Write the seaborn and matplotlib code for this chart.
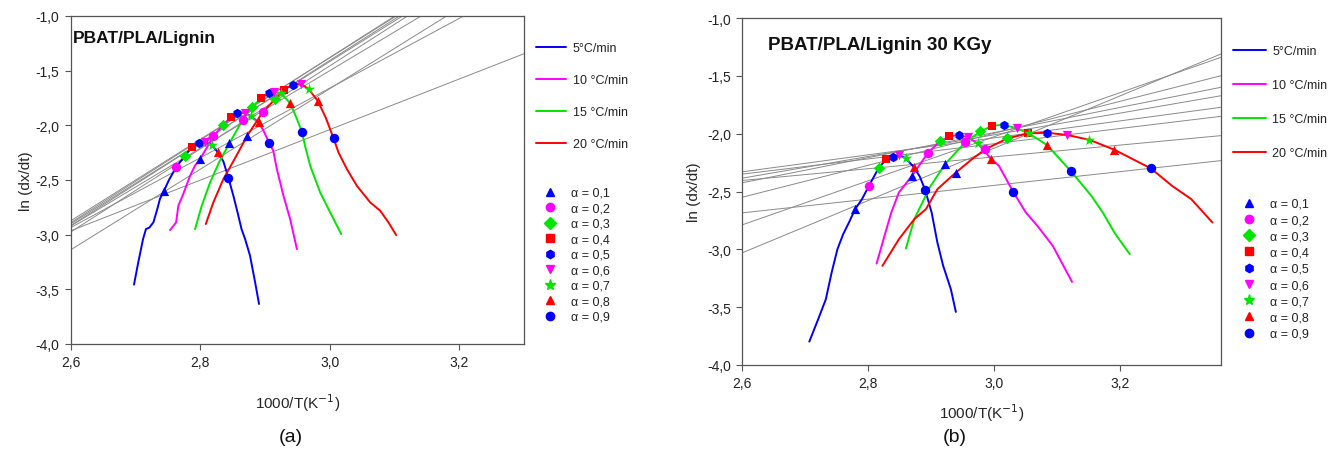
import numpy as np
import pandas as pd
import matplotlib
matplotlib.use("Agg")
import matplotlib.pyplot as plt
from matplotlib.lines import Line2D
import seaborn as sns

sns.set_style("ticks")
plt.rcParams["font.family"] = ["Liberation Sans", "DejaVu Sans"]

# ---------------- categories ----------------
RATES = ["5°C/min", "10 °C/min", "15 °C/min", "20 °C/min"]
RATE_COLORS = ["#0000FF", "#FF00FF", "#00E600", "#FF0000"]
ALPHAS = ["0,1", "0,2", "0,3", "0,4", "0,5", "0,6", "0,7", "0,8", "0,9"]
ALPHA_MARKERS = ["^", "o", "D", "s", "h", "v", "*", "^", "o"]
ALPHA_COLORS = ["#0000FF", "#FF00FF", "#00E600", "#FF0000", "#0000FF",
                "#FF00FF", "#00E600", "#FF0000", "#0000FF"]
XTICKS = [2.6, 2.8, 3.0, 3.2]
XTICK_LABELS = ["2,6", "2,8", "3,0", "3,2"]
YTICKS = [-4.0, -3.5, -3.0, -2.5, -2.0, -1.5, -1.0]
YTICK_LABELS = ["-4,0", "-3,5", "-3,0", "-2,5", "-2,0", "-1,5", "-1,0"]

# ---------------- panel (a): PBAT/PLA/Lignin ----------------
A_5_X = [2.698, 2.7046, 2.712, 2.7165, 2.7216, 2.728, 2.734, 2.738, 2.7443, 2.752, 2.7629, 2.7768,
         2.7881, 2.7985, 2.8077, 2.8180, 2.8273, 2.836, 2.8438, 2.8514, 2.858, 2.864, 2.8695,
         2.877, 2.885, 2.891]
A_5_Y = [-3.457, -3.253, -3.04, -2.948, -2.936, -2.887, -2.765, -2.674, -2.598, -2.50, -2.384, -2.277,
         -2.195, -2.165, -2.155, -2.177, -2.247, -2.33, -2.482, -2.644, -2.80, -2.949, -3.04,
         -3.19, -3.436, -3.634]
A_10_X = [2.7537, 2.763, 2.7665, 2.774, 2.7846, 2.792, 2.800, 2.8206, 2.8351, 2.8474, 2.8577, 2.8686,
          2.8784, 2.8902, 2.898, 2.9067, 2.913, 2.9185, 2.9287, 2.939, 2.9495]
A_10_Y = [-2.958, -2.888, -2.735, -2.629, -2.461, -2.37, -2.308, -2.101, -1.997, -1.927, -1.890, -1.887,
          -1.912, -1.973, -2.05, -2.162, -2.232, -2.40, -2.644, -2.857, -3.132]
A_15_X = [2.7923, 2.8026, 2.8155, 2.8300, 2.8454, 2.8660, 2.8809, 2.8943, 2.9057, 2.9134, 2.9253,
          2.9392, 2.948, 2.9572, 2.962, 2.970, 2.9853, 3.0008, 3.0178]
A_15_Y = [-2.949, -2.735, -2.522, -2.33, -2.162, -1.948, -1.829, -1.753, -1.707, -1.692, -1.707,
          -1.799, -1.92, -2.058, -2.187, -2.37, -2.613, -2.796, -2.995]
A_20_X = [2.8088, 2.8205, 2.836, 2.855, 2.8722, 2.8964, 2.9160, 2.9299, 2.9428, 2.9557, 2.9675,
          2.9814, 2.994, 3.0059, 3.0136, 3.0266, 3.042, 3.0626, 3.078, 3.0908, 3.1027]
A_20_Y = [-2.903, -2.705, -2.491, -2.29, -2.101, -1.881, -1.759, -1.674, -1.628, -1.622, -1.668,
          -1.774, -1.93, -2.116, -2.247, -2.40, -2.553, -2.705, -2.781, -2.888, -3.004]
# conversion markers (rows: heating rate, columns: alpha 0.1 ... 0.9)
A_MARK_X = [[2.7443, 2.7629, 2.7768, 2.7881, 2.7985, 2.8077, 2.8180, 2.8273, 2.8438],
            [2.8000, 2.8206, 2.8351, 2.8474, 2.8577, 2.8686, 2.8784, 2.8902, 2.9067],
            [2.8454, 2.8660, 2.8809, 2.8943, 2.9057, 2.9134, 2.9253, 2.9392, 2.9572],
            [2.8722, 2.8964, 2.9160, 2.9299, 2.9428, 2.9557, 2.9675, 2.9814, 3.0062]]
A_MARK_Y = [[-2.598, -2.384, -2.277, -2.195, -2.165, -2.155, -2.177, -2.247, -2.482],
            [-2.308, -2.101, -1.997, -1.927, -1.890, -1.887, -1.912, -1.973, -2.162],
            [-2.162, -1.948, -1.829, -1.753, -1.707, -1.692, -1.707, -1.799, -2.058],
            [-2.101, -1.881, -1.759, -1.674, -1.628, -1.622, -1.668, -1.774, -2.113]]
# iso-conversion fit lines: value at left edge (2.6) and right edge of the axis
A_FIT_LEFT = [-3.140, -2.977, -2.919, -2.875, -2.892, -2.903, -2.921, -2.936, -2.965]
A_FIT_RIGHT = [-0.560, -0.317, -0.273, -0.264, -0.246, -0.303, -0.436, -0.703, -1.345]
A_XLIM = [2.6, 3.3]

# ---------------- panel (b): PBAT/PLA/Lignin 30 KGy ----------------
B_5_X = [2.7068, 2.7208, 2.7330, 2.7422, 2.7514, 2.7605, 2.7697, 2.7794, 2.7900, 2.8014, 2.8167,
         2.8289, 2.8399, 2.8496, 2.8600, 2.8722, 2.882, 2.8905, 2.9009, 2.9100, 2.9192, 2.9314, 2.9393]
B_5_Y = [-3.798, -3.605, -3.432, -3.201, -2.999, -2.869, -2.768, -2.653, -2.57, -2.451, -2.298,
         -2.220, -2.200, -2.186, -2.214, -2.286, -2.37, -2.485, -2.682, -2.941, -3.143, -3.345, -3.541]
B_10_X = [2.8136, 2.8246, 2.8368, 2.8490, 2.8698, 2.8948, 2.9137, 2.9290, 2.9442, 2.9589, 2.9741,
          2.9955, 3.0077, 3.0303, 3.0504, 3.0687, 3.0931, 3.1237]
B_10_Y = [-3.123, -2.912, -2.682, -2.508, -2.364, -2.168, -2.067, -2.024, -2.010, -2.033, -2.085,
          -2.220, -2.278, -2.503, -2.682, -2.797, -2.970, -3.282]
B_15_X = [2.8600, 2.8734, 2.8978, 2.9222, 2.9540, 2.9784, 2.9967, 3.0156, 3.0363, 3.0553, 3.0840,
          3.1218, 3.1542, 3.1725, 3.1908, 3.2152]
B_15_Y = [-2.993, -2.739, -2.465, -2.263, -2.076, -1.981, -1.932, -1.923, -1.955, -1.998, -2.099,
          -2.324, -2.537, -2.682, -2.855, -3.042]
B_20_X = [2.8228, 2.8490, 2.8734, 2.8917, 2.9100, 2.9393, 2.9650, 2.9863, 3.0211, 3.0535, 3.0846,
          3.1163, 3.1511, 3.1908, 3.2489, 3.2823, 3.3128, 3.3464]
B_20_Y = [-3.143, -2.912, -2.739, -2.653, -2.480, -2.336, -2.220, -2.134, -2.041, -1.998, -1.992,
          -2.012, -2.053, -2.139, -2.301, -2.451, -2.566, -2.768]
B_MARK_X = [[2.7794, 2.8014, 2.8167, 2.8289, 2.8399, 2.8496, 2.8600, 2.8722, 2.8905],
            [2.8698, 2.8948, 2.9137, 2.9290, 2.9442, 2.9589, 2.9741, 2.9955, 3.0303],
            [2.9222, 2.9540, 2.9784, 2.9967, 3.0156, 3.0363, 3.0553, 3.0840, 3.1218],
            [2.9393, 2.9863, 3.0211, 3.0535, 3.0846, 3.1163, 3.1511, 3.1908, 3.2489]]
B_MARK_Y = [[-2.653, -2.451, -2.298, -2.220, -2.200, -2.186, -2.214, -2.286, -2.485],
            [-2.364, -2.168, -2.067, -2.024, -2.010, -2.033, -2.085, -2.220, -2.503],
            [-2.263, -2.076, -1.981, -1.932, -1.923, -1.955, -1.998, -2.099, -2.324],
            [-2.336, -2.134, -2.041, -1.998, -1.992, -2.012, -2.053, -2.139, -2.301]]
B_FIT_LEFT = [-3.031, -2.789, -2.550, -2.425, -2.385, -2.330, -2.350, -2.405, -2.685]
B_FIT_RIGHT = [-1.311, -1.340, -1.499, -1.599, -1.672, -1.772, -1.850, -2.017, -2.233]
B_XLIM = [2.6, 3.36]

GRAY = "#8a8a8a"
SPINE = "#555555"
MARK_SIZES = {"^": 44, "o": 46, "D": 34, "s": 38, "h": 46, "v": 44, "*": 70}


def draw_panel(ax, curves, mark_x, mark_y, fit_left, fit_right, xlim, title, title_pos,
               title_size, xpad, ypad):
    # fitted iso-conversional lines
    for i in range(len(ALPHAS)):
        df = pd.DataFrame({"x": xlim, "y": [fit_left[i], fit_right[i]]})
        sns.lineplot(data=df, x="x", y="y", ax=ax, color=GRAY, lw=0.7, sort=False,
                     estimator=None, legend=False, zorder=1)
    # experimental curves
    for (cx, cy), col in zip(curves, RATE_COLORS):
        df = pd.DataFrame({"x": cx, "y": cy})
        sns.lineplot(data=df, x="x", y="y", ax=ax, color=col, lw=1.4, sort=False,
                     estimator=None, legend=False, zorder=2)
    # conversion markers
    for j in range(len(ALPHAS)):
        df = pd.DataFrame({"x": [row[j] for row in mark_x], "y": [row[j] for row in mark_y]})
        sns.scatterplot(data=df, x="x", y="y", ax=ax, marker=ALPHA_MARKERS[j],
                        color=ALPHA_COLORS[j], s=MARK_SIZES[ALPHA_MARKERS[j]], linewidth=0,
                        zorder=3, legend=False)
    ax.set_xlim(xlim)
    ax.set_ylim(-4.0, -1.0)
    ax.set_xticks(XTICKS)
    ax.set_xticklabels(XTICK_LABELS)
    ax.set_yticks(YTICKS)
    ax.set_yticklabels(YTICK_LABELS)
    ax.set_xlabel("1000/T(K$^{-1}$)", fontsize=11, labelpad=xpad)
    ax.set_ylabel("ln (dx/dt)", fontsize=11, labelpad=ypad)
    ax.tick_params(direction="out", length=4, width=0.8, colors=SPINE, labelcolor="#222222",
                   labelsize=10, pad=4)
    for sp in ax.spines.values():
        sp.set_visible(True)
        sp.set_color(SPINE)
        sp.set_linewidth(0.9)
    ax.text(title_pos[0], title_pos[1], title, transform=ax.transAxes, fontsize=title_size,
            fontweight="bold", ha="left", va="center", color="#111111")


fig = plt.figure(figsize=(13.33, 4.56), dpi=100)
ax_a = fig.add_axes([70.5 / 1333, 1 - 345 / 456, 453.5 / 1333, 328 / 456])
ax_b = fig.add_axes([742 / 1333, 1 - 366 / 456, 479 / 1333, 347 / 456])

draw_panel(ax_a, [(A_5_X, A_5_Y), (A_10_X, A_10_Y), (A_15_X, A_15_Y), (A_20_X, A_20_Y)],
           A_MARK_X, A_MARK_Y, A_FIT_LEFT, A_FIT_RIGHT, A_XLIM,
           "PBAT/PLA/Lignin", (0.006, 0.933), 12.5, 16, 2)
draw_panel(ax_b, [(B_5_X, B_5_Y), (B_10_X, B_10_Y), (B_15_X, B_15_Y), (B_20_X, B_20_Y)],
           B_MARK_X, B_MARK_Y, B_FIT_LEFT, B_FIT_RIGHT, B_XLIM,
           "PBAT/PLA/Lignin 30 KGy", (0.055, 0.925), 13.5, 8, 4)

rate_handles = [Line2D([], [], color=c, lw=1.4) for c in RATE_COLORS]
alpha_handles = [Line2D([], [], ls="", marker=m, color=c, mec=c, ms=8 if m == "*" else 6)
                 for m, c in zip(ALPHA_MARKERS, ALPHA_COLORS)]
alpha_labels = ["\u03b1 = " + a for a in ALPHAS]


def add_legends(x_line, y_line, spacing_line, hl_line, x_mark, y_mark, spacing_mark):
    leg1 = fig.legend(rate_handles, RATES, loc="upper left", bbox_to_anchor=(x_line, y_line),
                      bbox_transform=fig.transFigure, frameon=False, fontsize=9,
                      handlelength=hl_line, handletextpad=0.55, labelspacing=spacing_line,
                      borderpad=0, borderaxespad=0)
    leg2 = fig.legend(alpha_handles, alpha_labels, loc="upper left", bbox_to_anchor=(x_mark, y_mark),
                      bbox_transform=fig.transFigure, frameon=False, fontsize=9,
                      handlelength=1.6, handletextpad=0.9, labelspacing=spacing_mark,
                      borderpad=0, borderaxespad=0)
    for leg in (leg1, leg2):
        for t in leg.get_texts():
            t.set_color("#222222")


add_legends(536 / 1333, 1 - 43 / 456, 1.6, 2.4, 540 / 1333, 1 - 188 / 456, 0.28)
add_legends(1233 / 1333, 1 - 46 / 456, 1.76, 2.6, 1239 / 1333, 1 - 199 / 456, 0.34)

fig.text(291 / 1333, 1 - 438 / 456, "(a)", fontsize=14, ha="center", va="center", color="#111111")
fig.text(955 / 1333, 1 - 438 / 456, "(b)", fontsize=14, ha="center", va="center", color="#111111")

fig.savefig("out.png", dpi=100)
